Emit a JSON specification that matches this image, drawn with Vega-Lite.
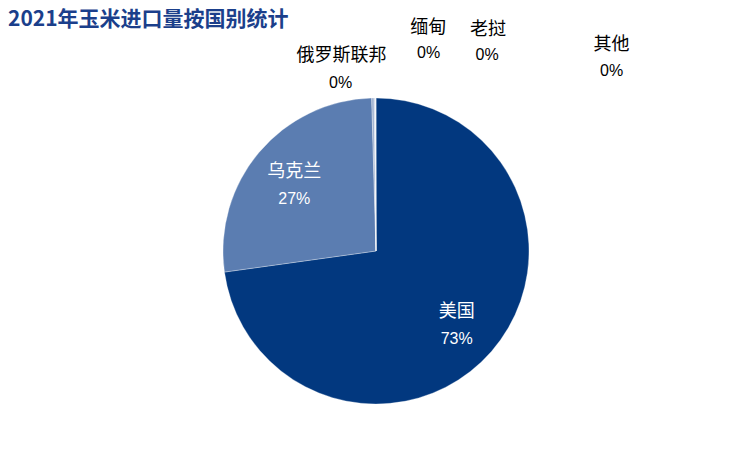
{
  "$schema": "https://vega.github.io/schema/vega-lite/v6.json",
  "width": 752,
  "height": 402,
  "autosize": "none",
  "padding": {"top": 50, "left": 0, "right": 0, "bottom": 0},
  "background": "white",
  "view": {"stroke": null},
  "title": {
    "text": "2021年玉米进口量按国别统计",
    "anchor": "start",
    "frame": "group",
    "font": "Noto Sans CJK SC",
    "fontSize": 21,
    "fontWeight": "bold",
    "color": "#1b3f8b",
    "dx": 8,
    "offset": -28,
    "baseline": "alphabetic"
  },
  "data": {
    "values": [
      {"country": "美国", "share": 0.728},
      {"country": "乌克兰", "share": 0.2675},
      {"country": "俄罗斯联邦", "share": 0.0025},
      {"country": "缅甸", "share": 0.0012},
      {"country": "老挝", "share": 0.0005},
      {"country": "其他", "share": 0.0003}
    ]
  },
  "encoding": {
    "theta": {"field": "share", "type": "quantitative", "stack": true},
    "order": {"field": "share", "type": "quantitative", "sort": "descending"}
  },
  "layer": [
    {
      "mark": {"type": "arc", "outerRadius": 153, "stroke": "white", "strokeWidth": 0.3},
      "encoding": {
        "color": {
          "field": "country",
          "type": "nominal",
          "scale": {
            "domain": ["美国", "乌克兰", "俄罗斯联邦", "缅甸", "老挝", "其他"],
            "range": ["#02387f", "#5b7db1", "#9fb1cf", "#c5d0e3", "#dde4ef", "#eef1f7"]
          },
          "legend": null
        }
      }
    },
    {
      "transform": [{"filter": "datum.share > 0.1"}],
      "mark": {"type": "text", "radius": 107, "dy": -9.5, "align": "center", "baseline": "middle", "font": "Noto Sans CJK SC", "fontSize": 18, "color": "white"},
      "encoding": {"text": {"field": "country", "type": "nominal"}}
    },
    {
      "transform": [{"filter": "datum.share > 0.1"}],
      "mark": {"type": "text", "radius": 107, "dy": 17.5, "align": "center", "baseline": "middle", "font": "Liberation Sans", "fontSize": 16, "color": "white"},
      "encoding": {"text": {"field": "share", "type": "quantitative", "format": ".0%"}}
    },
    {
      "transform": [{"filter": "datum.country == '俄罗斯联邦'"}],
      "mark": {"type": "text", "radius": 153, "dx": -35.6, "dy": -42, "align": "center", "baseline": "middle", "font": "Noto Sans CJK SC", "fontSize": 18, "color": "black"},
      "encoding": {"text": {"field": "country", "type": "nominal"}}
    },
    {
      "transform": [{"filter": "datum.country == '俄罗斯联邦'"}],
      "mark": {"type": "text", "radius": 153, "dx": -36.6, "dy": -14.7, "align": "center", "baseline": "middle", "font": "Liberation Sans", "fontSize": 16, "color": "black"},
      "encoding": {"text": {"field": "share", "type": "quantitative", "format": ".0%"}}
    },
    {
      "transform": [{"filter": "datum.country == '缅甸'"}],
      "mark": {"type": "text", "radius": 153, "dx": 51.6, "dy": -70, "align": "center", "baseline": "middle", "font": "Noto Sans CJK SC", "fontSize": 18, "color": "black"},
      "encoding": {"text": {"field": "country", "type": "nominal"}}
    },
    {
      "transform": [{"filter": "datum.country == '缅甸'"}],
      "mark": {"type": "text", "radius": 153, "dx": 52.1, "dy": -44.7, "align": "center", "baseline": "middle", "font": "Liberation Sans", "fontSize": 16, "color": "black"},
      "encoding": {"text": {"field": "share", "type": "quantitative", "format": ".0%"}}
    },
    {
      "transform": [{"filter": "datum.country == '老挝'"}],
      "mark": {"type": "text", "radius": 153, "dx": 111.8, "dy": -68, "align": "center", "baseline": "middle", "font": "Noto Sans CJK SC", "fontSize": 18, "color": "black"},
      "encoding": {"text": {"field": "country", "type": "nominal"}}
    },
    {
      "transform": [{"filter": "datum.country == '老挝'"}],
      "mark": {"type": "text", "radius": 153, "dx": 110.8, "dy": -43.2, "align": "center", "baseline": "middle", "font": "Liberation Sans", "fontSize": 16, "color": "black"},
      "encoding": {"text": {"field": "share", "type": "quantitative", "format": ".0%"}}
    },
    {
      "transform": [{"filter": "datum.country == '其他'"}],
      "mark": {"type": "text", "radius": 153, "dx": 235.4, "dy": -53, "align": "center", "baseline": "middle", "font": "Noto Sans CJK SC", "fontSize": 18, "color": "black"},
      "encoding": {"text": {"field": "country", "type": "nominal"}}
    },
    {
      "transform": [{"filter": "datum.country == '其他'"}],
      "mark": {"type": "text", "radius": 153, "dx": 235.4, "dy": -27.2, "align": "center", "baseline": "middle", "font": "Liberation Sans", "fontSize": 16, "color": "black"},
      "encoding": {"text": {"field": "share", "type": "quantitative", "format": ".0%"}}
    }
  ]
}
